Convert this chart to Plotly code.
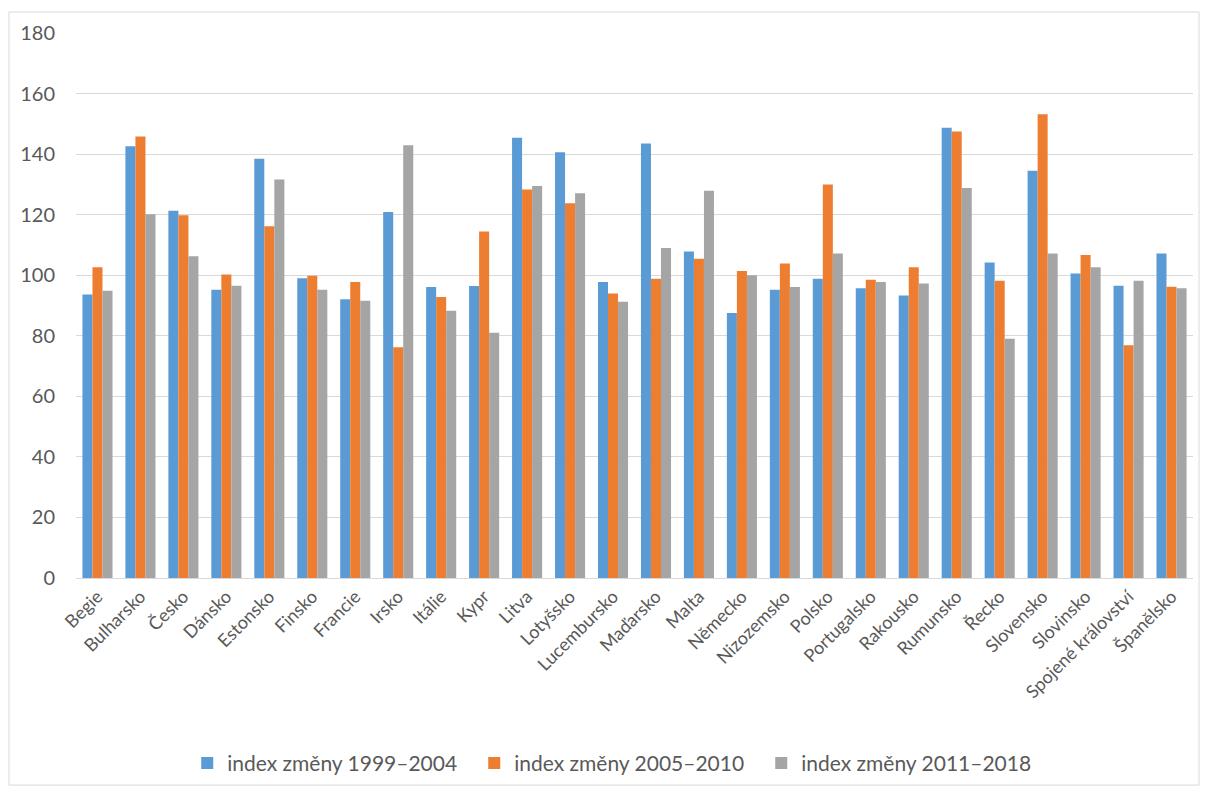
import plotly.graph_objects as go

countries = ["Begie", "Bulharsko", "Česko", "Dánsko", "Estonsko", "Finsko", "Francie", "Irsko",
             "Itálie", "Kypr", "Litva", "Lotyšsko", "Lucembursko", "Maďarsko", "Malta", "Německo",
             "Nizozemsko", "Polsko", "Portugalsko", "Rakousko", "Rumunsko", "Řecko", "Slovensko",
             "Slovinsko", "Spojené království", "Španělsko"]

idx_1999_2004 = [93.6, 142.6, 121.3, 95.2, 138.5, 99.0, 92.1, 120.9, 96.1, 96.4, 145.4, 140.6, 97.8,
                 143.5, 107.8, 87.5, 95.2, 98.8, 95.7, 93.3, 148.7, 104.2, 134.5, 100.6, 96.5, 107.2]
idx_2005_2010 = [102.6, 145.8, 119.8, 100.2, 116.2, 99.8, 97.8, 76.2, 92.8, 114.4, 128.3, 123.8, 94.0,
                 98.8, 105.4, 101.4, 103.9, 130.0, 98.5, 102.6, 147.5, 98.2, 153.2, 106.7, 76.9, 96.2]
idx_2011_2018 = [94.9, 120.1, 106.3, 96.5, 131.6, 95.2, 91.6, 142.9, 88.3, 81.0, 129.5, 127.1, 91.2,
                 109.0, 127.9, 100.0, 96.1, 107.2, 97.8, 97.3, 128.8, 79.0, 107.2, 102.6, 98.2, 95.7]

series_names = ["index změny 1999–2004", "index změny 2005–2010", "index změny 2011–2018"]
colors = ["#5B9BD5", "#ED7D31", "#A5A5A5"]

fig = go.Figure()
for name, vals, col in zip(series_names, [idx_1999_2004, idx_2005_2010, idx_2011_2018], colors):
    fig.add_trace(go.Bar(x=countries, y=vals, name=name, marker=dict(color=col, line=dict(width=0))))

fig.update_layout(
    width=1206, height=787,
    margin=dict(l=76, r=13, t=33, b=209, autoexpand=False),
    paper_bgcolor="white", plot_bgcolor="white",
    barmode="group", bargap=0.3, bargroupgap=0,
    font=dict(family="Lato, Carlito, Calibri, sans-serif", size=18, color="#595959"),
    xaxis=dict(tickangle=-45, showgrid=False, showline=True, linecolor="#D9D9D9", linewidth=1,
               ticks="", automargin=False, tickfont=dict(size=18, color="#595959")),
    yaxis=dict(range=[0, 180], dtick=20, showgrid=True, gridcolor="#D9D9D9", gridwidth=1,
               zeroline=False, showline=False, ticks="", ticklabelstandoff=20, automargin=False,
               tickfont=dict(size=20, color="#595959")),
    legend=dict(orientation="h", x=0.485, xanchor="center", y=-0.34, yanchor="middle",
                font=dict(size=21, color="#595959"), traceorder="normal", itemwidth=30,
                entrywidth=242, entrywidthmode="pixels", bgcolor="rgba(0,0,0,0)"),
    shapes=[dict(type="rect", xref="paper", yref="paper", x0=-0.06, x1=1.0054, y0=-0.38, y1=1.0385,
                 line=dict(color="#D9D9D9", width=1))],
)

fig.write_html("out.html")
